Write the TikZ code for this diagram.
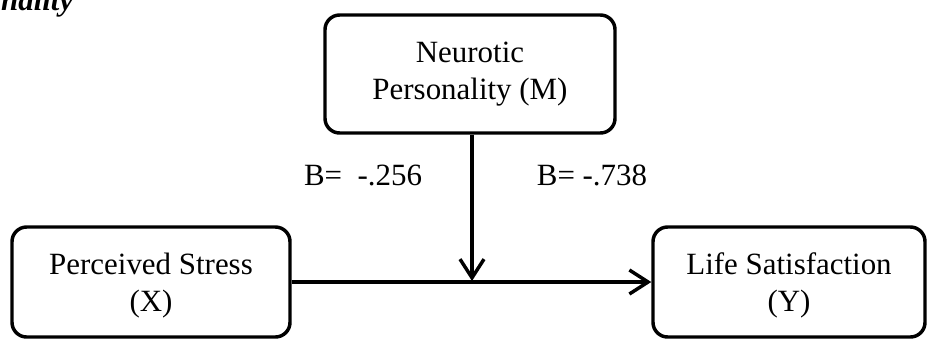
\documentclass[tikz,border=0pt]{standalone}
\usepackage{fontspec}
\setmainfont{Liberation Serif}
\usetikzlibrary{arrows.meta}
\begin{document}
\begin{tikzpicture}[x=0.75pt,y=-0.75pt,
  box/.style={draw, line width=2.6pt, rounded corners=11pt, align=center,
    font=\fontsize{23.2}{27.75}\selectfont, inner sep=0pt},
  conn/.style={line width=2.6pt, -{Straight Barb[length=14pt,width=18pt,line width=2.6pt]}},
  lbl/.style={font=\fontsize{23.2}{27.75}\selectfont, anchor=base}]
\useasboundingbox (0,0) rectangle (927,340);
\node[anchor=base east, font=\fontsize{23.2}{27.75}\selectfont\bfseries\itshape] (title) at (78,10) {Personality};
\node[box, minimum width=217.5pt, minimum height=88.5pt] (M) at (470,74) {Neurotic\\Personality (M)};
\node[box, minimum width=208.5pt, minimum height=82.5pt, text depth=0pt] (X) at (151,282) {Perceived Stress\\(X)};
\node[box, minimum width=204pt, minimum height=82.5pt, text depth=0pt] (Y) at (789,282) {Life Satisfaction\\(Y)};
\coordinate (v) at (472,281);
\draw[conn] (X.east) -- (Y.west);
\draw[conn] (M.south -| v) -- (v);
\node[lbl] (b1) at (363,185) {B=\ \ -.256};
\node[lbl] (b2) at (592,185) {B= -.738};
\end{tikzpicture}
\end{document}
